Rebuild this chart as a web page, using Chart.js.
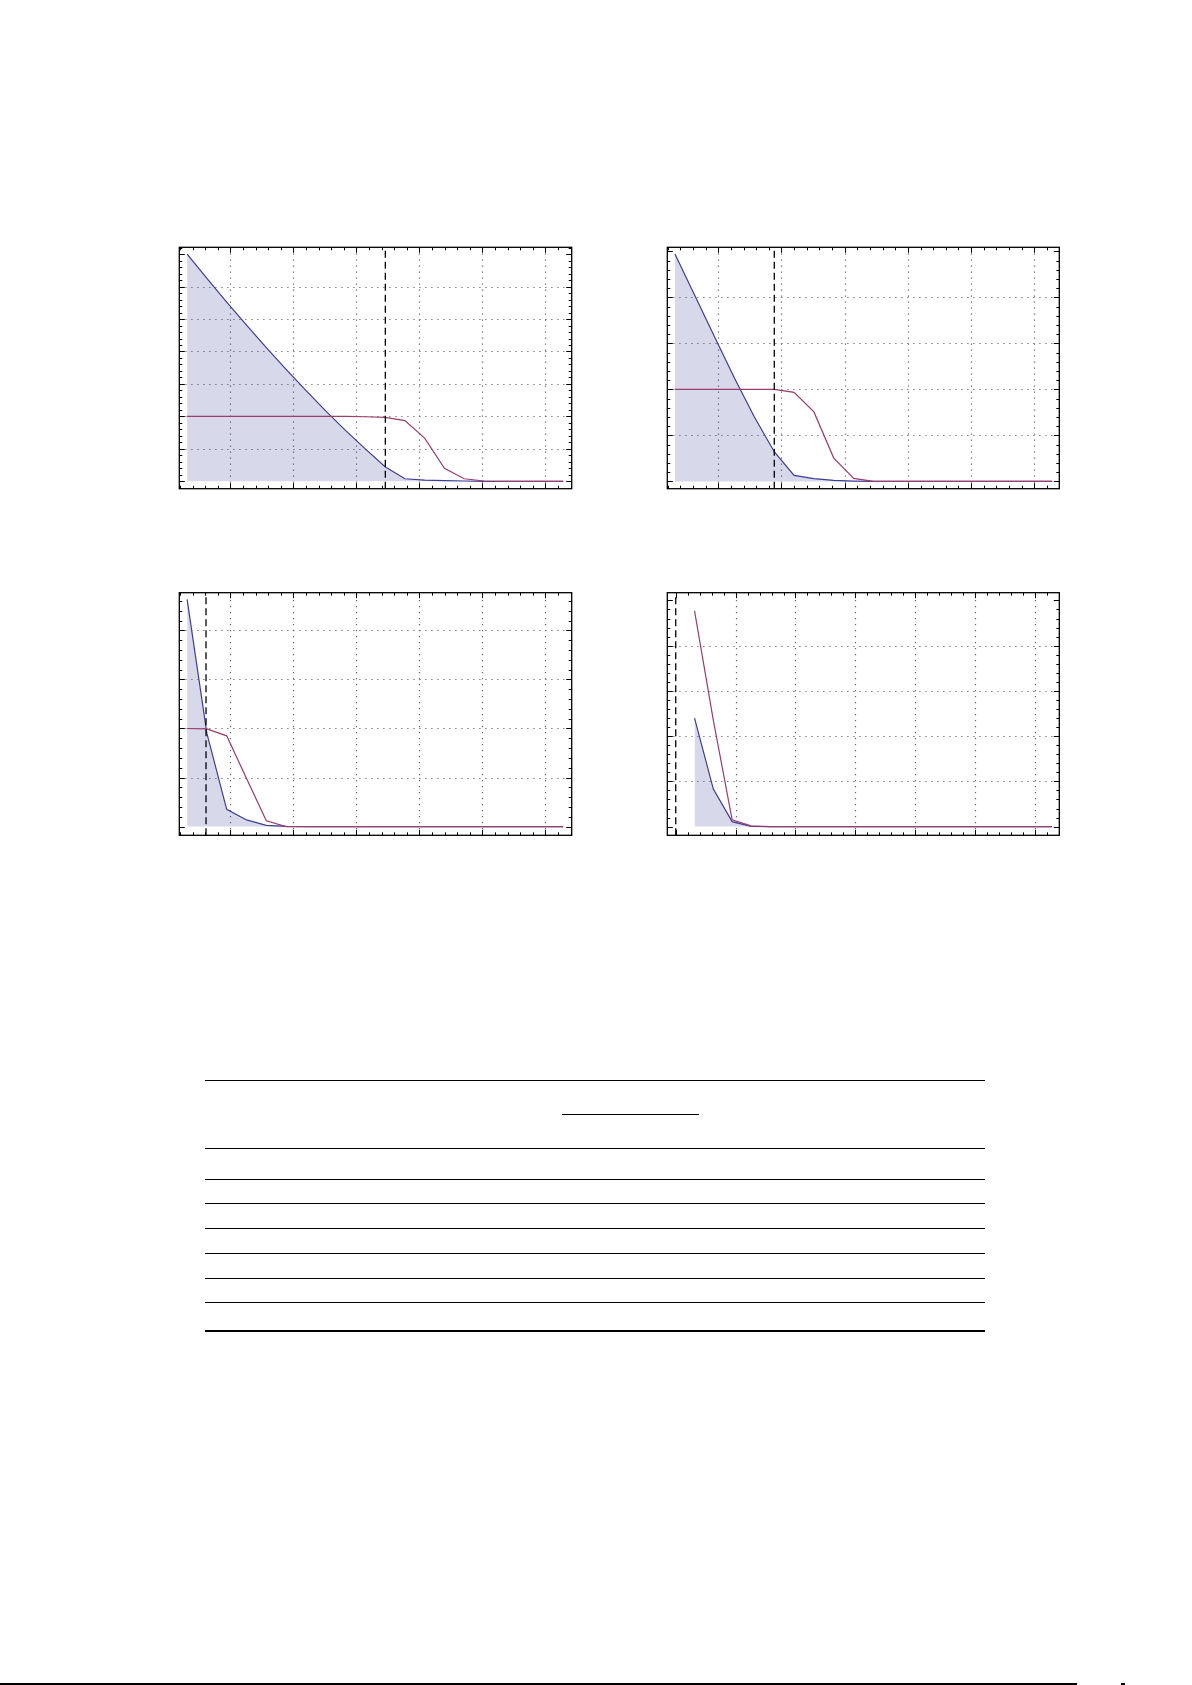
<!DOCTYPE html>
<html>
<head>
<meta charset="utf-8">
<script src="https://cdn.jsdelivr.net/npm/chart.js@4.4.1/dist/chart.umd.min.js"></script>
<style>
    html, body { margin: 0; padding: 0; background: #fff; }
    body { width: 1192px; height: 1685px; position: relative; overflow: hidden; }
    canvas { position: absolute; }
    .rule { position: absolute; background: #000; }
</style>
</head>
<body>
<canvas id="plot1"></canvas>
<canvas id="plot2"></canvas>
<canvas id="plot3"></canvas>
<canvas id="plot4"></canvas>
<script>
// sample positions (same for all four panels)
const xValues = [0.314, 0.628, 0.942, 1.257, 1.571, 1.885, 2.199, 2.513, 2.827, 3.142,
                 3.456, 3.770, 4.084, 4.398, 4.712, 5.027, 5.341, 5.655, 5.969, 6.283];

// blue (filled) and red series, one pair per panel
const blue1 = [7.00, 6.25, 5.52, 4.81, 4.12, 3.45, 2.80, 2.17, 1.57, 1.00, 0.45, 0.08, 0.04, 0.02, 0.01, 0, 0, 0, 0, 0];
const red1  = [2.00, 2.00, 2.00, 2.00, 2.00, 2.00, 2.00, 2.00, 2.00, 1.99, 1.97, 1.87, 1.33, 0.40, 0.08, 0.01, 0, 0, 0, 0];
const blue2 = [4.94, 4.04, 3.14, 2.24, 1.40, 0.645, 0.13, 0.058, 0.022, 0.007, 0, 0, 0, 0, 0, 0, 0, 0, 0, 0];
const red2  = [2.00, 2.00, 2.00, 2.00, 2.00, 2.00, 1.935, 1.51, 0.507, 0.065, 0, 0, 0, 0, 0, 0, 0, 0, 0, 0];
const blue3 = [4.63, 1.90, 0.353, 0.136, 0.025, 0.003, 0, 0, 0, 0, 0, 0, 0, 0, 0, 0, 0, 0, 0, 0];
const red3  = [2.00, 1.99, 1.85, 0.98, 0.12, 0, 0, 0, 0, 0, 0, 0, 0, 0, 0, 0, 0, 0, 0, 0];
const blue4 = [2.40, 0.83, 0.11, 0.005, 0, 0, 0, 0, 0, 0, 0, 0, 0, 0, 0, 0, 0, 0, 0, 0];
const red4  = [4.77, 2.35, 0.15, 0.015, 0, 0, 0, 0, 0, 0, 0, 0, 0, 0, 0, 0, 0, 0, 0, 0];

// dashed vertical marker per panel
const cutoffs = [3.46, 1.886, 0.614, 0];

// axis ranges and grid lines
const xRanges = [[0.19, 6.418], [0.193, 6.396], [0.19, 6.418], [-0.141, 6.406]];
const yRanges = [[-0.227, 7.21], [-0.159, 5.087], [-0.177, 4.767], [-0.192, 5.171]];
const xGridLines = [1, 2, 3, 4, 5, 6];
const yGridLines = [[1, 2, 3, 4, 5, 6], [1, 2, 3, 4], [1, 2, 3, 4], [1, 2, 3, 4]];

// frame boxes on the page: left, top, width, height
const frames = [[179.3, 247.3, 392.4, 241.4], [667.3, 247.3, 392.0, 241.4],
                [179.3, 592.7, 392.4, 242.6], [667.3, 592.7, 392.0, 242.6]];

const blueLine = 'rgb(61, 61, 153)';
const blueFill = 'rgba(61, 61, 153, 0.2)';
const redLine = 'rgb(153, 61, 107)';

function ticksBetween(min, max, step) {
    let out = [];
    for (let i = Math.ceil(min / step - 1e-6); i <= Math.floor(max / step + 1e-6); i++) {
        out.push(Math.round(i * step * 1000) / 1000);
    }
    return out;
}

// dotted grid under the data, frame with ticks on top
const framePlugin = {
    id: 'framePlugin',
    beforeDatasetsDraw(chart, args, opts) {
        const ctx = chart.ctx, a = chart.chartArea;
        const xs = chart.scales.x, ys = chart.scales.y;
        ctx.save();
        ctx.strokeStyle = '#666';
        ctx.lineWidth = 1.2;
        ctx.setLineDash([1.2, 4.8]);
        opts.xGrid.forEach(function (v) {
            const px = Math.round(xs.getPixelForValue(v)) + 0.5;
            ctx.beginPath(); ctx.moveTo(px, a.bottom); ctx.lineTo(px, a.top); ctx.stroke();
        });
        opts.yGrid.forEach(function (v) {
            const py = Math.round(ys.getPixelForValue(v)) + 0.5;
            ctx.beginPath(); ctx.moveTo(a.left, py); ctx.lineTo(a.right, py); ctx.stroke();
        });
        ctx.restore();
    },
    afterDatasetsDraw(chart) {
        const ctx = chart.ctx, a = chart.chartArea;
        const xs = chart.scales.x, ys = chart.scales.y;
        ctx.save();
        ctx.strokeStyle = '#000';
        ctx.lineWidth = 1;
        ticksBetween(xs.min, xs.max, 0.2).forEach(function (v) {
            const len = Math.abs(v - Math.round(v)) < 1e-6 ? 5.5 : 3;
            const px = Math.round(xs.getPixelForValue(v)) + 0.5;
            ctx.beginPath();
            ctx.moveTo(px, a.bottom); ctx.lineTo(px, a.bottom - len);
            ctx.moveTo(px, a.top); ctx.lineTo(px, a.top + len);
            ctx.stroke();
        });
        ticksBetween(ys.min, ys.max, 0.2).forEach(function (v) {
            const len = Math.abs(v - Math.round(v)) < 1e-6 ? 5.5 : 3;
            const py = Math.round(ys.getPixelForValue(v)) + 0.5;
            ctx.beginPath();
            ctx.moveTo(a.left, py); ctx.lineTo(a.left + len, py);
            ctx.moveTo(a.right, py); ctx.lineTo(a.right - len, py);
            ctx.stroke();
        });
        ctx.lineWidth = 1.3;
        ctx.strokeRect(a.left, a.top, a.right - a.left, a.bottom - a.top);
        ctx.restore();
    }
};

function points(series) {
    return xValues.map(function (x, i) { return { x: x, y: series[i] }; });
}

function makePlot(id, n, blue, red) {
    const f = frames[n];
    const left = Math.floor(f[0]) - 8, top = Math.floor(f[1]) - 8;
    const width = Math.ceil(f[0] + f[2]) + 8 - left;
    const height = Math.ceil(f[1] + f[3]) + 8 - top;
    const canvas = document.getElementById(id);
    canvas.width = width; canvas.height = height;
    canvas.style.left = left + 'px'; canvas.style.top = top + 'px';
    canvas.style.width = width + 'px'; canvas.style.height = height + 'px';

    return new Chart(canvas.getContext('2d'), {
        type: 'line',
        data: {
            datasets: [{
                data: [{ x: cutoffs[n], y: yRanges[n][0] }, { x: cutoffs[n], y: yRanges[n][1] }],
                borderColor: '#000',
                borderWidth: 1.3,
                borderDash: [7, 4],
                pointRadius: 0,
                fill: false
            }, {
                data: points(red),
                borderColor: redLine,
                borderWidth: 1.2,
                pointRadius: 0,
                tension: 0,
                fill: false
            }, {
                data: points(blue),
                borderColor: blueLine,
                backgroundColor: blueFill,
                borderWidth: 1.2,
                pointRadius: 0,
                tension: 0,
                fill: 'origin'
            }]
        },
        options: {
            responsive: false,
            animation: false,
            events: [],
            layout: {
                padding: {
                    left: f[0] - left,
                    top: f[1] - top,
                    right: left + width - (f[0] + f[2]),
                    bottom: top + height - (f[1] + f[3])
                }
            },
            scales: {
                x: { type: 'linear', display: false, min: xRanges[n][0], max: xRanges[n][1] },
                y: { type: 'linear', display: false, min: yRanges[n][0], max: yRanges[n][1] }
            },
            plugins: {
                legend: { display: false },
                tooltip: { enabled: false },
                framePlugin: { xGrid: xGridLines, yGrid: yGridLines[n] }
            }
        },
        plugins: [framePlugin]
    });
}

// table rules (the table carries no text)
const ruleRows = [[1080, 1], [1148, 1], [1179, 1], [1203, 1], [1228, 1], [1253, 1], [1278, 1], [1302, 1], [1330, 2]];

function addRule(left, top, width, height) {
    const d = document.createElement('div');
    d.className = 'rule';
    d.style.left = left + 'px'; d.style.top = top + 'px';
    d.style.width = width + 'px'; d.style.height = height + 'px';
    document.body.appendChild(d);
}

document.addEventListener("DOMContentLoaded", function () {
    makePlot('plot1', 0, blue1, red1);
    makePlot('plot2', 1, blue2, red2);
    makePlot('plot3', 2, blue3, red3);
    makePlot('plot4', 3, blue4, red4);

    ruleRows.forEach(function (r) { addRule(205, r[0], 780, r[1]); });
    addRule(562, 1114, 137, 1);     // header cmidrule
    addRule(0, 1683, 1077, 2);      // page footer rule
    addRule(1121, 1683, 4, 2);
});
</script>
</body>
</html>
